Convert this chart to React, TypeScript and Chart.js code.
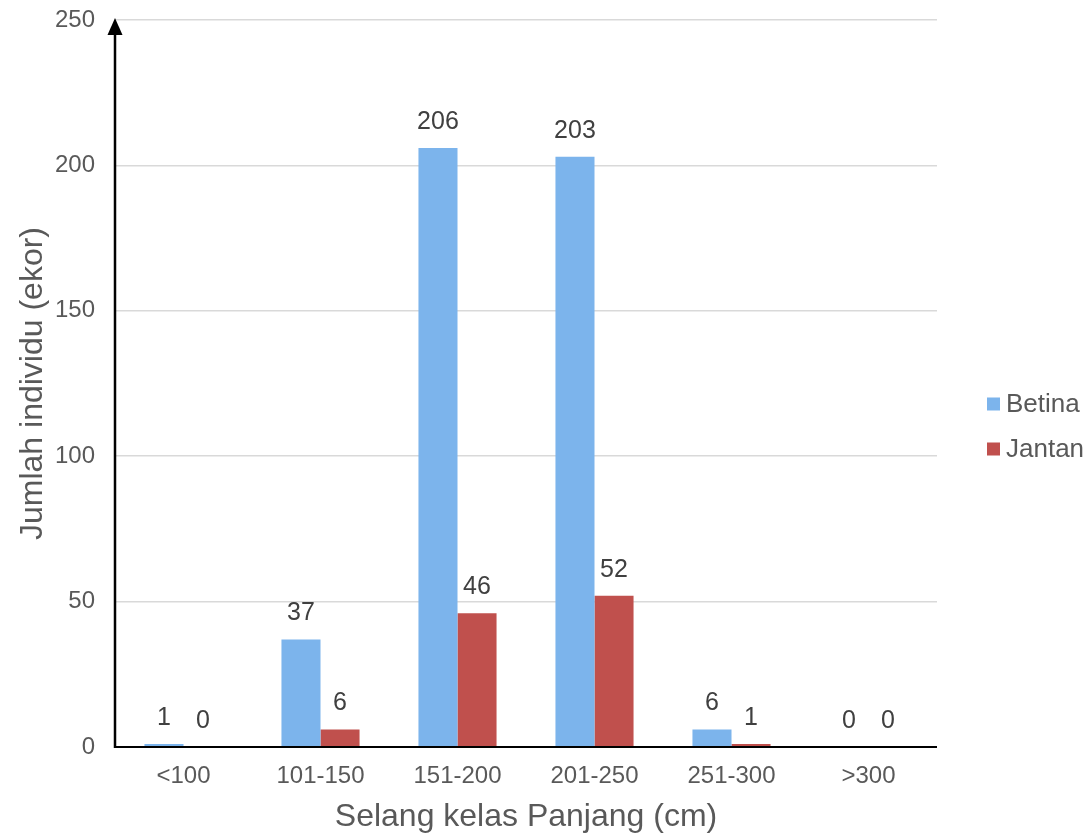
import React, { useEffect, useRef } from "react";
import { Chart, registerables } from "chart.js";

Chart.register(...registerables);

const categories = ["<100", "101-150", "151-200", "201-250", "251-300", ">300"];
const betina = [1, 37, 206, 203, 6, 0];
const jantan = [0, 6, 46, 52, 1, 0];
const yTicks = [0, 50, 100, 150, 200, 250];
const seriesNames = ["Betina", "Jantan"];
const xTitle = "Selang kelas Panjang (cm)";
const yTitle = "Jumlah individu (ekor)";

const BLUE = "#7cb4ec";
const RED = "#c0504d";
const TEXT = "#595959";
const FONT = "'Liberation Sans', Arial, sans-serif";

const overlay = {
  id: "overlay",
  afterDatasetsDraw(chart: any) {
    const ctx = chart.ctx;
    const area = chart.chartArea;
    ctx.save();
    // data labels
    ctx.fillStyle = "#404040";
    ctx.font = `25px ${FONT}`;
    ctx.textAlign = "center";
    ctx.textBaseline = "middle";
    chart.data.datasets.forEach((ds: any, i: number) => {
      const meta = chart.getDatasetMeta(i);
      meta.data.forEach((bar: any, j: number) => {
        ctx.fillText(String(ds.data[j]), bar.x, bar.y - 26);
      });
    });
    // x axis line
    ctx.strokeStyle = "#000";
    ctx.lineWidth = 2;
    ctx.beginPath();
    ctx.moveTo(area.left - 1, area.bottom);
    ctx.lineTo(area.right, area.bottom);
    ctx.stroke();
    // y axis line with arrow
    ctx.lineWidth = 2.5;
    ctx.beginPath();
    ctx.moveTo(area.left, area.bottom + 1);
    ctx.lineTo(area.left, area.top + 10);
    ctx.stroke();
    ctx.fillStyle = "#000";
    ctx.beginPath();
    ctx.moveTo(area.left, area.top - 2);
    ctx.lineTo(area.left - 7.5, area.top + 15);
    ctx.lineTo(area.left + 7.5, area.top + 15);
    ctx.closePath();
    ctx.fill();
    // titles
    ctx.fillStyle = TEXT;
    ctx.font = `32px ${FONT}`;
    ctx.textAlign = "center";
    ctx.textBaseline = "middle";
    ctx.fillText(xTitle, (area.left + area.right) / 2, 817);
    ctx.save();
    ctx.translate(33, (area.top + area.bottom) / 2);
    ctx.rotate(-Math.PI / 2);
    ctx.fillText(yTitle, 0, 0);
    ctx.restore();
    // legend
    const colors = [BLUE, RED];
    ctx.font = `26px ${FONT}`;
    ctx.textAlign = "left";
    seriesNames.forEach((name, i) => {
      const y = 404 + i * 45;
      ctx.fillStyle = colors[i];
      ctx.fillRect(987, y - 6.5, 13, 13);
      ctx.fillStyle = TEXT;
      ctx.fillText(name, 1006, y + 1);
    });
    ctx.restore();
  },
};

export default function App() {
  const ref = useRef<HTMLCanvasElement>(null);
  useEffect(() => {
    document.body.style.margin = "0";
    const chart = new Chart(ref.current!, {
      type: "bar",
      data: {
        labels: categories,
        datasets: [
          { label: seriesNames[0], data: betina, backgroundColor: BLUE },
          { label: seriesNames[1], data: jantan, backgroundColor: RED },
        ],
      },
      options: {
        responsive: false,
        animation: false,
        layout: { padding: { top: 20, right: 152, left: 0, bottom: 0 } },
        datasets: { bar: { categoryPercentage: 0.57, barPercentage: 1.0 } },
        plugins: { legend: { display: false }, tooltip: { enabled: false } },
        scales: {
          x: {
            grid: { display: false, drawTicks: false },
            border: { display: false },
            ticks: { color: TEXT, font: { family: FONT, size: 24 }, padding: 15 },
            afterFit: (s: any) => {
              s.height = 90;
              s.paddingLeft = 0;
              s.paddingRight = 0;
            },
          },
          y: {
            min: 0,
            max: 250,
            afterBuildTicks: (s: any) => { s.ticks = yTicks.map((v) => ({ value: v })); },
            grid: { color: "#d9d9d9", lineWidth: 1.5, drawTicks: false },
            border: { display: false },
            ticks: { color: TEXT, font: { family: FONT, size: 24 }, padding: 20 },
            afterFit: (s: any) => {
              s.width = 115;
              s.paddingTop = 0;
              s.paddingBottom = 0;
            },
          },
        },
      },
      plugins: [overlay],
    });
    return () => chart.destroy();
  }, []);
  return <canvas ref={ref} width={1089} height={837} style={{ display: "block" }} />;
}
